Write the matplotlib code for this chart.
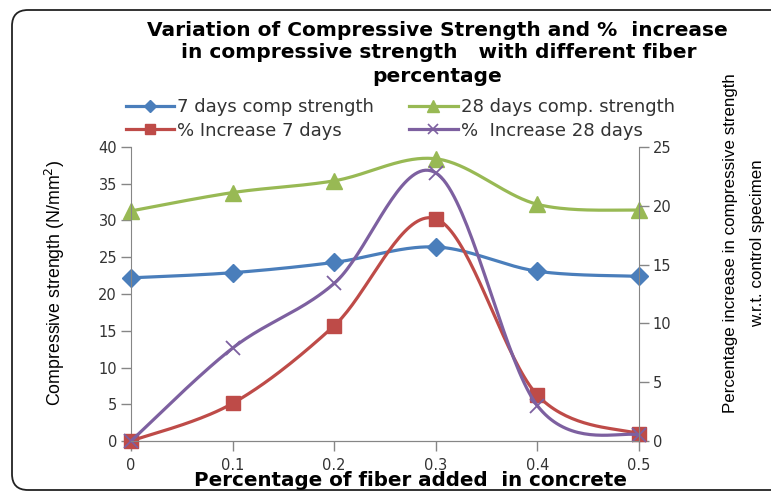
import matplotlib
matplotlib.use("Agg")
import matplotlib.pyplot as plt
import numpy as np
from matplotlib import font_manager
from matplotlib.patches import FancyBboxPatch
from matplotlib.transforms import IdentityTransform
from matplotlib.lines import Line2D

fiber = [0, 0.1, 0.2, 0.3, 0.4, 0.5]
str_7 = [22.2, 22.9, 24.3, 26.4, 23.1, 22.4]
str_28 = [31.3, 33.8, 35.4, 38.4, 32.2, 31.4]
inc_7 = [0, 3.2, 9.8, 18.9, 3.9, 0.6]
inc_28 = [0, 7.9, 13.4, 22.8, 3.0, 0.5]

blue = '#4A7EBB'
green = '#98B954'
red = '#BE4B48'
purple = '#7D60A0'

names = {f.name for f in font_manager.fontManager.ttflist}
narrow = 'Liberation Sans Narrow' if 'Liberation Sans Narrow' in names else 'Liberation Sans'


def smooth(xs, ys, n=40):
    # excel style smoothed line (bezier through the points)
    p = np.column_stack([xs, ys]).astype(float)
    out = []
    for i in range(len(p) - 1):
        p0 = p[i - 1] if i > 0 else p[i]
        p1, p2 = p[i], p[i + 1]
        p3 = p[i + 2] if i + 2 < len(p) else p[i + 1]
        c1 = p1 + (p2 - p0) / 6
        c2 = p2 - (p3 - p1) / 6
        t = np.linspace(0, 1, n)[:, None]
        seg = (1-t)**3*p1 + 3*(1-t)**2*t*c1 + 3*(1-t)*t**2*c2 + t**3*p2
        out.append(seg if i == 0 else seg[1:])
    s = np.vstack(out)
    return s[:, 0], s[:, 1]


fig = plt.figure(figsize=(7.71, 4.96), dpi=100)
ax = fig.add_axes([131/771, 1-441/496, (639-131)/771, (441-147)/496])
ax2 = ax.twinx()

lw = 2.3
sx, sy = smooth(fiber, str_7)
ax.plot(sx, sy, color=blue, lw=lw)
ax.plot(fiber, str_7, 'D', color=blue, ms=9, clip_on=False)
sx, sy = smooth(fiber, str_28)
ax.plot(sx, sy, color=green, lw=lw)
ax.plot(fiber, str_28, '^', color=green, ms=11, clip_on=False)

sx, sy = smooth(fiber, inc_7)
ax2.plot(sx, sy, color=red, lw=lw)
ax2.plot(fiber, inc_7, 's', color=red, ms=10, clip_on=False)
sx, sy = smooth(fiber, inc_28)
ax2.plot(sx, sy, color=purple, lw=lw)
ax2.plot(fiber, inc_28, 'x', color=purple, ms=10, mew=1.3, clip_on=False)

ax.set_xlim(0, 0.5)
ax.set_ylim(0, 40)
ax2.set_ylim(0, 25)
ax.set_xticks(fiber)
ax.set_xticklabels(['0', '0.1', '0.2', '0.3', '0.4', '0.5'])
ax.set_yticks(np.arange(0, 41, 5))
ax2.set_yticks(np.arange(0, 26, 5))

spc = '#868686'
for a in (ax, ax2):
    for s in a.spines.values():
        s.set_color(spc)
    a.spines['top'].set_visible(False)
    a.tick_params(colors=spc, labelcolor='#333333', labelsize=10.5,
                  length=7, width=1, pad=3)
ax2.spines['left'].set_visible(False)
ax.spines['right'].set_visible(False)
ax.tick_params(axis='x', pad=5)

tfs = 14.5
fig.text(437/771, 1-30/496, 'Variation of Compressive Strength and %  increase',
         ha='center', va='center', fontsize=tfs, fontweight='bold')
fig.text(439/771, 1-53/496, 'in compressive strength   with different fiber',
         ha='center', va='center', fontsize=tfs, fontweight='bold')
fig.text(437/771, 1-76/496, 'percentage',
         ha='center', va='center', fontsize=tfs, fontweight='bold')

fig.text(411/771, 1-481/496, 'Percentage of fiber added  in concrete',
         ha='center', va='center', fontsize=14.3, fontweight='bold')
fig.text(55/771, 1-283/496, 'Compressive strength (N/mm$^2$)', rotation=90,
         ha='center', va='center', fontsize=12.8, family=narrow)
fig.text(731/771, 1-243/496, 'Percentage increase in compressive strength',
         rotation=90, ha='center', va='center', fontsize=12.2, family=narrow)
fig.text(758/771, 1-243/496, 'w.r.t. control specimen',
         rotation=90, ha='center', va='center', fontsize=12.2, family=narrow)

handles = [
    Line2D([], [], color=blue, lw=lw, marker='D', ms=6),
    Line2D([], [], color=red, lw=lw, marker='s', ms=7),
    Line2D([], [], color=green, lw=lw, marker='^', ms=8),
    Line2D([], [], color=purple, lw=lw, marker='x', ms=7, mew=1.2),
]
labels = ['7 days comp strength', '% Increase 7 days',
          '28 days comp. strength', '%  Increase 28 days']
fig.legend(handles, labels, ncol=2, loc='center',
           bbox_to_anchor=(400/771, 1-119/496), frameon=False,
           fontsize=13, handlelength=2.7, handletextpad=0.15,
           columnspacing=1.95, labelspacing=0.3, labelcolor='#333333',
           borderpad=0, borderaxespad=0)

border = FancyBboxPatch((12, 6), 800, 480, boxstyle='round,pad=0,rounding_size=16',
                        transform=IdentityTransform(), fill=False,
                        ec='#222222', lw=1.3)
fig.patches.append(border)

fig.savefig('out.png', dpi=100)
